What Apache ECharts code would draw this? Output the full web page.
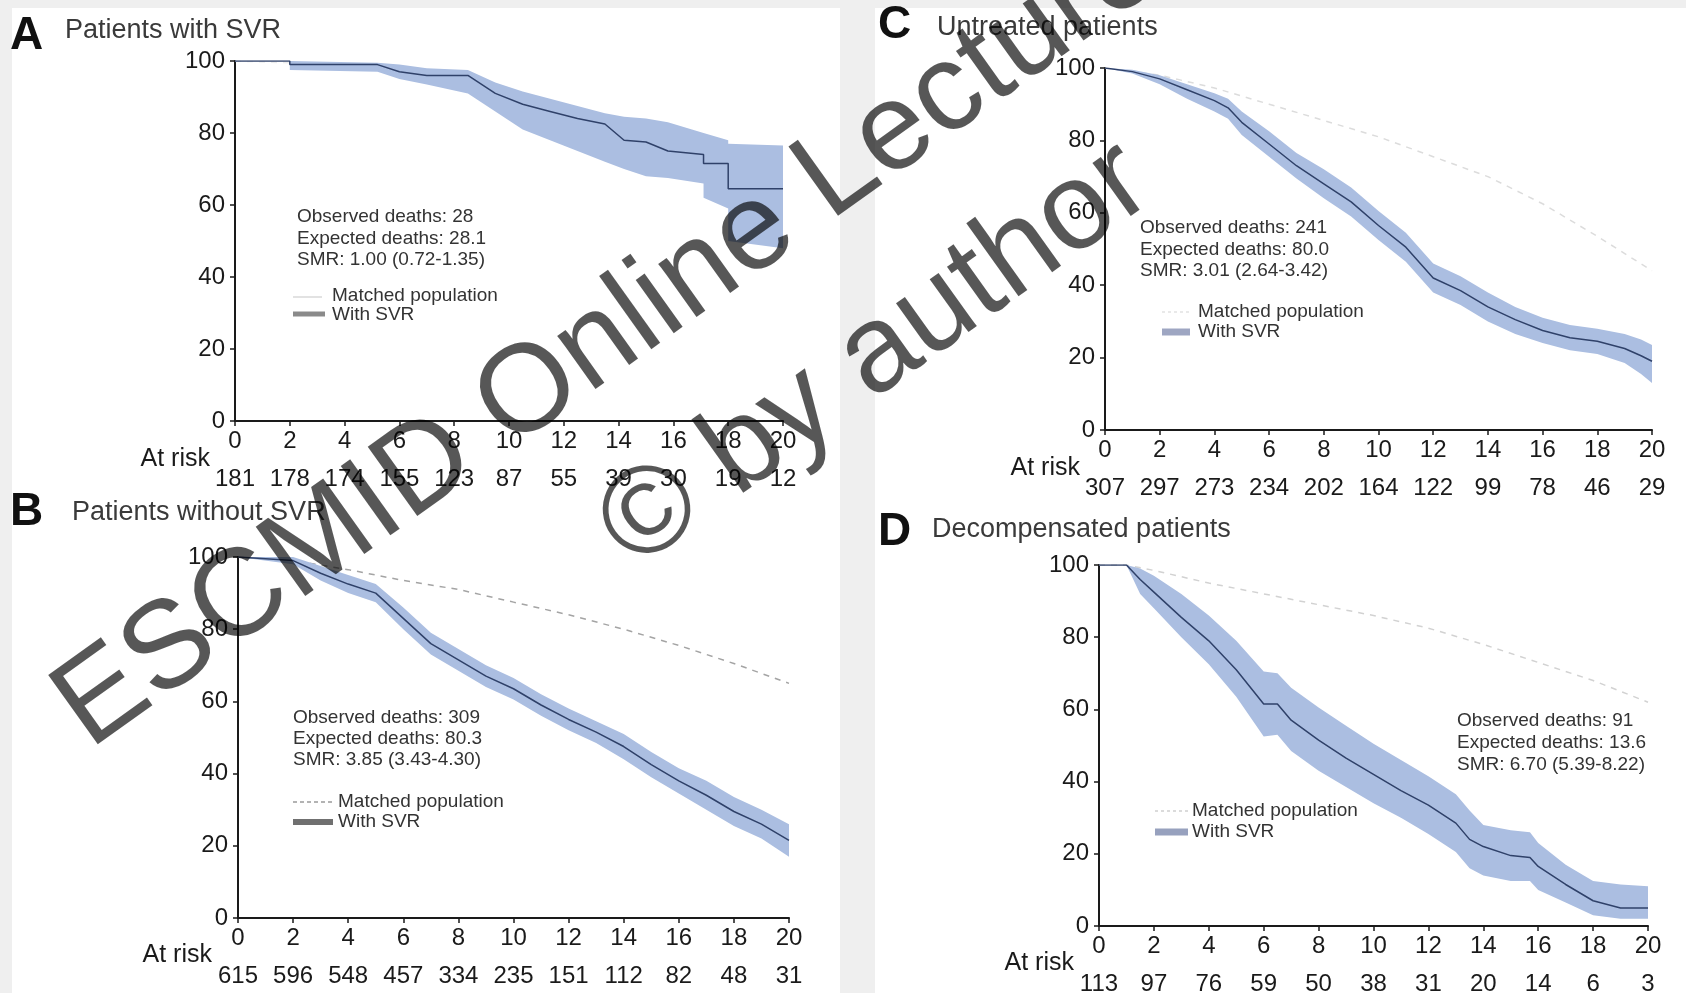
<!DOCTYPE html>
<html>
<head>
<meta charset="utf-8">
<script src="https://cdn.jsdelivr.net/npm/echarts@6/dist/echarts.min.js"></script>
<style>
  html, body { margin: 0; padding: 0; background: #efefef; }
  #chart { width: 1686px; height: 993px; }
</style>
</head>
<body>
<div id="chart"></div>
<script>
// x ticks (years) shared by all panels
const yearTicks = [0, 2, 4, 6, 8, 10, 12, 14, 16, 18, 20]

// A - Patients with SVR (repeated times are the vertical drops of the KM steps)
const timeA = [0, 2, 2, 5.2, 6, 7, 8.5, 9.5, 10.5, 11.5, 12.5, 13.5, 14.2, 15, 15.8, 17.1, 17.1, 18, 18, 20]
const survA = [100, 100, 99, 99, 97, 96, 96, 91, 88, 86, 84, 82.5, 78, 77.5, 75, 74, 71.5, 71.5, 64.5, 64.5]
const lowA = [100, 100, 97.5, 97, 95, 93.5, 91, 86, 81, 78, 75, 72, 70, 68, 67.5, 66, 62, 59, 50, 48]
const highA = [100, 100, 100, 99.5, 99, 98, 97.5, 94, 91.5, 89.5, 87.5, 85.5, 84.5, 84, 83, 80, 80, 78, 77, 76.5]
const matchTimeA = [0, 4, 8, 12, 16, 20]
const matchA = [100, 99, 95.5, 88, 79, 67]
const riskA = [181, 178, 174, 155, 123, 87, 55, 39, 30, 19, 12]

// B - Patients without SVR
const timeB = [0, 2, 3, 4, 5, 6, 7, 8, 9, 10, 11, 12, 13, 14, 15, 16, 17, 18, 19, 20]
const survB = [100, 99, 95.5, 92.5, 90, 83, 76, 71.5, 67, 63.5, 59, 55, 51.5, 47.5, 42.5, 38, 34, 29.5, 26, 21.5]
const lowB = [100, 98, 93.5, 90, 87.5, 80, 73, 68.5, 64, 60.5, 56, 52, 48.5, 44, 39, 34.5, 30, 25.5, 22, 17]
const highB = [100, 100, 97.5, 95, 92.5, 86, 79, 74.5, 70, 66.5, 62, 58, 54.5, 51, 46, 41.5, 38, 33.5, 30, 26]
const matchTimeB = [0, 2, 4, 6, 8, 10, 12, 14, 16, 18, 20]
const matchB = [100, 99, 96.5, 93.5, 91, 87.5, 84, 80, 75.5, 70.5, 65]
const riskB = [615, 596, 548, 457, 334, 235, 151, 112, 82, 48, 31]

// C - Untreated patients
const timeC = [0, 1, 2, 3, 4, 4.5, 5, 6, 7, 8, 9, 10, 11, 12, 13, 14, 15, 16, 17, 18, 19, 19.6, 20]
const survC = [100, 99, 97, 94, 91, 89, 85, 79, 73, 68, 63, 56.5, 50.5, 42, 38.5, 34, 30.5, 27.5, 25.5, 24.5, 22.5, 20.5, 19]
const lowC = [100, 98.5, 95.5, 91.5, 88, 86, 81.5, 75.5, 69.5, 64, 59, 52.5, 46.5, 38, 34.5, 30, 26.5, 24, 22, 21, 18.5, 15.5, 13]
const highC = [100, 99.5, 98, 95.5, 93, 91.5, 88, 82.5, 76.5, 72, 67, 60.5, 54.5, 46, 42.5, 38, 34, 31, 29, 28, 26.5, 25, 23.5]
const matchTimeC = [0, 2, 4, 6, 8, 10, 12, 14, 16, 18, 20]
const matchC = [100, 98, 94.5, 90, 85.5, 81, 75.5, 70, 62.5, 53.5, 44]
const riskC = [307, 297, 273, 234, 202, 164, 122, 99, 78, 46, 29]

// D - Decompensated patients
const timeD = [0, 1, 1.5, 2, 3, 4, 5, 6, 6.5, 7, 8, 9, 10, 11, 12, 13, 13.5, 14, 15, 15.7, 16, 17, 18, 19, 20]
const survD = [100, 100, 96, 92.5, 85.5, 79, 71, 61.5, 61.5, 57, 51.5, 46.5, 42, 37.5, 33.5, 28.5, 24, 22, 19.5, 19, 16.5, 11.5, 7, 5, 5]
const lowD = [100, 100, 92, 88, 80, 72.5, 63.5, 52.5, 53, 48.5, 43, 38.5, 34, 30, 25.5, 20.5, 16, 14, 12.5, 12.5, 10, 6.5, 3, 2, 2]
const highD = [100, 100, 99, 97, 92, 86, 79, 70.5, 70, 66, 60.5, 55.5, 50.5, 46, 41.5, 36.5, 32, 28, 26.5, 26, 23, 17, 12.5, 11.5, 11]
const matchTimeD = [0, 1, 2, 4, 6, 8, 10, 12, 14, 16, 18, 20]
const matchD = [100, 100, 98.5, 95, 92, 89, 86, 82.5, 78, 73, 68, 62]
const riskD = [113, 97, 76, 59, 50, 38, 31, 20, 14, 6, 3]

const FONT = '"Liberation Sans", Arial, Helvetica, sans-serif'
const BAND = '#abbee1'
const LINE = '#2f4169'

const panels = [
	{ grid: { left: 235, top: 61, width: 548, height: 360 }, t: timeA, s: survA, lo: lowA, hi: highA, mt: matchTimeA, m: matchA, risk: riskA, matchColor: '#ececec' },
	{ grid: { left: 238, top: 557, width: 551, height: 361 }, t: timeB, s: survB, lo: lowB, hi: highB, mt: matchTimeB, m: matchB, risk: riskB, matchColor: '#a4a4a4' },
	{ grid: { left: 1105, top: 68, width: 547, height: 362 }, t: timeC, s: survC, lo: lowC, hi: highC, mt: matchTimeC, m: matchC, risk: riskC, matchColor: '#dcdcdc' },
	{ grid: { left: 1099, top: 565, width: 549, height: 361 }, t: timeD, s: survD, lo: lowD, hi: highD, mt: matchTimeD, m: matchD, risk: riskD, matchColor: '#d2d2d2' }
]

const grids = []
const xAxes = []
const yAxes = []
const series = []

panels.forEach((p, i) => {
	grids.push({ ...p.grid, containLabel: false, outerBoundsMode: 'none' })
	// time axis
	xAxes.push({
		type: 'value', gridIndex: i, min: 0, max: 20, interval: 2, position: 'bottom',
		axisLine: { show: true, onZero: false, lineStyle: { color: '#1a1a1a', width: 2 } },
		axisTick: { show: true, length: 5, lineStyle: { color: '#1a1a1a', width: 1.5 } },
		axisLabel: { show: true, margin: 8, fontSize: 24, fontFamily: FONT, color: '#1a1a1a' },
		splitLine: { show: false }
	})
	// at risk row, drawn as a second axis on the same scale
	xAxes.push({
		type: 'value', gridIndex: i, min: 0, max: 20, interval: 2, position: 'bottom', offset: 0,
		axisLine: { show: false }, axisTick: { show: false }, splitLine: { show: false },
		axisLabel: {
			show: true, margin: 46, fontSize: 24, fontFamily: FONT, color: '#1a1a1a',
			formatter: (v) => String(p.risk[yearTicks.indexOf(v)])
		}
	})
	yAxes.push({
		type: 'value', gridIndex: i, min: 0, max: 100, interval: 20,
		axisLine: { show: true, lineStyle: { color: '#1a1a1a', width: 2 } },
		axisTick: { show: true, length: 5, lineStyle: { color: '#1a1a1a', width: 1.5 } },
		axisLabel: { show: true, margin: 10, fontSize: 24, fontFamily: FONT, color: '#1a1a1a' },
		splitLine: { show: false }
	})

	// matched population (under the band)
	series.push({
		type: 'line', xAxisIndex: i * 2, yAxisIndex: i, z: 1, silent: true,
		data: p.mt.map((x, k) => [x, p.m[k]]),
		showSymbol: false, symbol: 'none',
		lineStyle: { color: p.matchColor, width: 1.5, type: [6, 6] }
	})
	// confidence band
	series.push({
		type: 'custom', xAxisIndex: i * 2, yAxisIndex: i, silent: true, z: 2,
		data: p.t.map((x, k) => [x, p.lo[k], p.hi[k]]),
		encode: { x: 0, y: [1, 2] },
		renderItem: (params, api) => {
			if (params.dataIndex !== 0) return
			const top = p.t.map((x, k) => api.coord([x, p.hi[k]]))
			const bot = p.t.map((x, k) => api.coord([x, p.lo[k]]))
			return { type: 'polygon', shape: { points: top.concat(bot.reverse()) }, style: { fill: BAND } }
		}
	})
	// with SVR (KM curve)
	series.push({
		type: 'line', xAxisIndex: i * 2, yAxisIndex: i, z: 3, silent: true,
		data: p.t.map((x, k) => [x, p.s[k]]),
		showSymbol: false, symbol: 'none',
		lineStyle: { color: LINE, width: 1.5 }
	})
})

// texts
const txt = (text, x, y, size, opts = {}) => ({
	type: 'text', x, y, z: 10, silent: true,
	style: {
		text, fontSize: size, fontFamily: FONT, fontWeight: opts.bold ? 'bold' : 'normal',
		fill: opts.color || '#333', align: opts.align || 'left', verticalAlign: 'middle'
	}
})
const seg = (x1, x2, y, color, width, dash) => ({
	type: 'line', z: 10, silent: true,
	shape: { x1, y1: y, x2, y2: y },
	style: { stroke: color, lineWidth: width, lineDash: dash || null }
})

const graphic = [
	// white panel areas
	{ type: 'rect', z: -10, silent: true, shape: { x: 12, y: 8, width: 828, height: 985 }, style: { fill: '#ffffff' } },
	{ type: 'rect', z: -10, silent: true, shape: { x: 875, y: 8, width: 811, height: 985 }, style: { fill: '#ffffff' } },

	// panel letters and titles
	txt('A', 10, 36, 46, { bold: true, color: '#111' }),
	txt('Patients with SVR', 65, 31, 27, { color: '#3a3a3a' }),
	txt('B', 10, 512, 46, { bold: true, color: '#111' }),
	txt('Patients without SVR', 72, 513, 27, { color: '#3a3a3a' }),
	txt('C', 878, 25, 46, { bold: true, color: '#111' }),
	txt('Untreated patients', 937, 28, 27, { color: '#3a3a3a' }),
	txt('D', 878, 532, 46, { bold: true, color: '#111' }),
	txt('Decompensated patients', 932, 530, 27, { color: '#3a3a3a' }),

	// at risk labels
	txt('At risk', 210, 459, 25, { align: 'right', color: '#1a1a1a' }),
	txt('At risk', 212, 955, 25, { align: 'right', color: '#1a1a1a' }),
	txt('At risk', 1080, 468, 25, { align: 'right', color: '#1a1a1a' }),
	txt('At risk', 1074, 963, 25, { align: 'right', color: '#1a1a1a' }),

	// A annotations
	txt('Observed deaths: 28', 297, 217, 19),
	txt('Expected deaths: 28.1', 297, 239, 19),
	txt('SMR: 1.00 (0.72-1.35)', 297, 260, 19),
	seg(293, 322, 297, '#d8d8d8', 1.5),
	txt('Matched population', 332, 296, 19),
	seg(293, 325, 314, '#8a8a8a', 5),
	txt('With SVR', 332, 315, 19),

	// B annotations
	txt('Observed deaths: 309', 293, 718, 19),
	txt('Expected deaths: 80.3', 293, 739, 19),
	txt('SMR: 3.85 (3.43-4.30)', 293, 760, 19),
	seg(293, 333, 802, '#9a9a9a', 1.5, [4, 3]),
	txt('Matched population', 338, 802, 19),
	seg(293, 333, 822, '#707070', 6),
	txt('With SVR', 338, 822, 19),

	// C annotations
	txt('Observed deaths: 241', 1140, 228, 19),
	txt('Expected deaths: 80.0', 1140, 250, 19),
	txt('SMR: 3.01 (2.64-3.42)', 1140, 271, 19),
	seg(1162, 1190, 312, '#e2e2e2', 1.5, [3, 3]),
	txt('Matched population', 1198, 312, 19),
	seg(1162, 1190, 332, '#9ea6c2', 7),
	txt('With SVR', 1198, 332, 19),

	// D annotations
	txt('Observed deaths: 91', 1457, 721, 19),
	txt('Expected deaths: 13.6', 1457, 743, 19),
	txt('SMR: 6.70 (5.39-8.22)', 1457, 765, 19),
	seg(1155, 1188, 811, '#cfcfcf', 1.5, [3, 3]),
	txt('Matched population', 1192, 811, 19),
	seg(1155, 1188, 832, '#97a1be', 7),
	txt('With SVR', 1192, 832, 19),

	// watermark
	{
		type: 'text', x: 608, y: 338, rotation: 0.62, z: 100, silent: true,
		style: { text: 'ESCMID Online Lecture', fontSize: 124, fontFamily: FONT, fill: 'rgba(0,0,0,0.66)', align: 'center', verticalAlign: 'middle' }
	},
	{
		type: 'text', x: 876, y: 356, rotation: 0.62, z: 100, silent: true,
		style: { text: '\u00a9 by author', fontSize: 124, fontFamily: FONT, fill: 'rgba(0,0,0,0.66)', align: 'center', verticalAlign: 'middle' }
	}
]

const chart = echarts.init(document.getElementById('chart'), null, { renderer: 'canvas' })
chart.setOption({
	backgroundColor: '#efefef',
	animation: false,
	grid: grids,
	xAxis: xAxes,
	yAxis: yAxes,
	series: series,
	graphic: graphic
})
</script>
</body>
</html>
